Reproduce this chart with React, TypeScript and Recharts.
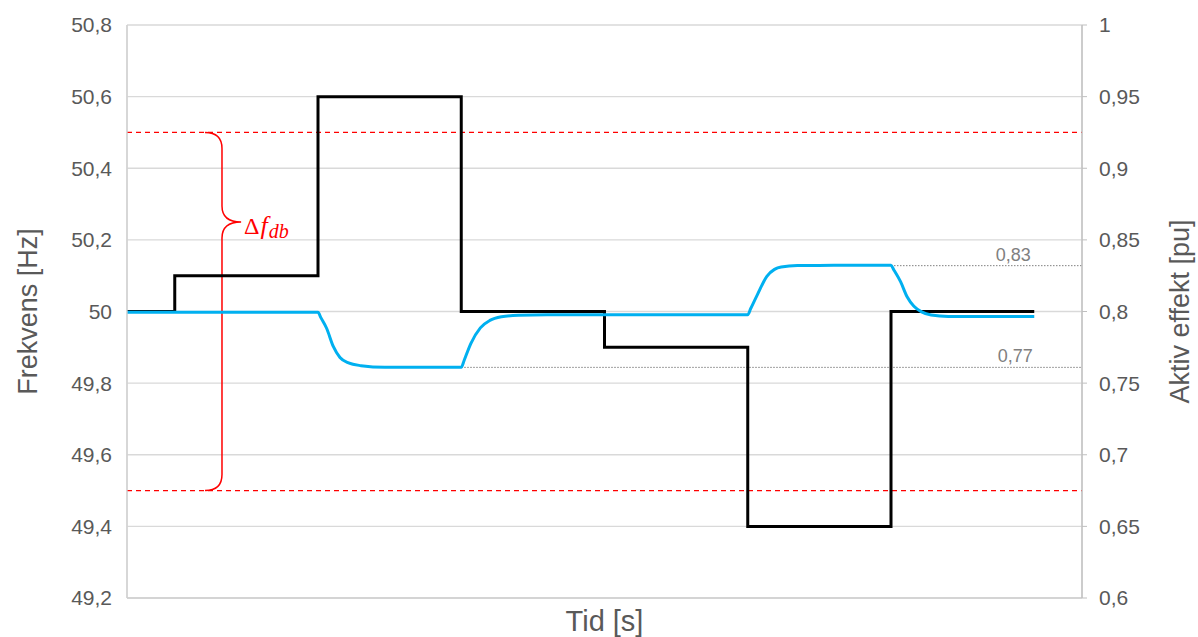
import React from 'react';
import {
  ComposedChart,
  Line,
  XAxis,
  YAxis,
  CartesianGrid,
  ReferenceLine,
  ReferenceArea,
  ReferenceDot,
} from 'recharts';

// ---- Data ----
const timeTicks = [0, 1, 2, 3, 4, 5, 6, 7, 8, 9, 10];
const freqTicks = [49.2, 49.4, 49.6, 49.8, 50, 50.2, 50.4, 50.6, 50.8];
const powerTicks = [0.6, 0.65, 0.7, 0.75, 0.8, 0.85, 0.9, 0.95, 1];

// Frequency (black step line)
const freqTime = [0, 0.5, 2, 3.5, 5, 6.5, 8, 9.5];
const freqHz = [50, 50.1, 50.6, 50, 49.9, 49.4, 50, 50];

// Active power (blue line)
const powerTime = [
  0, 2, 2.03, 2.09, 2.16, 2.23, 2.32, 2.45, 2.7,
  3.5, 3.53, 3.6, 3.7, 3.8, 3.92, 4.1, 4.4,
  6.5, 6.53, 6.6, 6.7, 6.78, 6.85, 7.02, 7.4,
  8, 8.03, 8.1, 8.17, 8.24, 8.32, 8.42, 8.6, 9.5,
];
const powerPu = [
  0.7995, 0.7995, 0.7957, 0.7883, 0.7756, 0.7679, 0.7641, 0.7622, 0.761,
  0.761, 0.7658, 0.7776, 0.7886, 0.7938, 0.7963, 0.7974, 0.7978,
  0.7978, 0.8019, 0.8116, 0.8246, 0.8294, 0.8311, 0.8321, 0.8322,
  0.8322, 0.829, 0.8208, 0.8101, 0.8036, 0.7997, 0.7975, 0.7965, 0.7965,
];

// Deadband limits and annotated power levels
const deadbandHz = [50.5, 49.5];
const lowPower = 0.761;
const lowPowerLabel = '0,77';
const lowPowerStart = 3.5;
const highPower = 0.832;
const highPowerLabel = '0,83';
const highPowerStart = 8;
const braceTipHz = 50.25;

const freqData = freqTime.map((t, i) => ({ t, f: freqHz[i] }));
const powerData = powerTime.map((t, i) => ({ t, p: powerPu[i] }));

const fmt = (v: number) => String(v).replace('.', ',');

const FONT = '"Liberation Sans", Arial, sans-serif';
const TICK_COLOR = '#595959';

const LeftTitle = (props: any) => {
  const vb = props.viewBox || {};
  const cx = (vb.x ?? 0) + 28;
  const cy = (vb.y ?? 0) + (vb.height ?? 0) / 2;
  return (
    <text x={cx} y={cy} transform={`rotate(-90, ${cx}, ${cy})`} textAnchor="middle" dominantBaseline="central"
      fontFamily={FONT} fontSize={27} fill={TICK_COLOR}>Frekvens [Hz]</text>
  );
};

const RightTitle = (props: any) => {
  const vb = props.viewBox || {};
  const cx = (vb.x ?? 0) + 98;
  const cy = (vb.y ?? 0) + (vb.height ?? 0) / 2;
  return (
    <text x={cx} y={cy} transform={`rotate(-90, ${cx}, ${cy})`} textAnchor="middle" dominantBaseline="central"
      fontFamily={FONT} fontSize={27} fill={TICK_COLOR}>Aktiv effekt [pu]</text>
  );
};

const BottomTitle = (props: any) => {
  const vb = props.viewBox || {};
  const cx = (vb.x ?? 0) + (vb.width ?? 0) / 2;
  const y = (vb.y ?? 0) + 33;
  return (
    <text x={cx} y={y} textAnchor="middle" fontFamily={FONT} fontSize={29} fill={TICK_COLOR}>Tid [s]</text>
  );
};

const BraceShape = (props: any) => {
  const { x, y, width, height } = props;
  if (x == null || y == null) return null;
  const left = x;
  const right = x + width;
  const mid = x + width * 0.47;
  const top = y;
  const bottom = y + height;
  const tipY = y + height * ((deadbandHz[0] - braceTipHz) / (deadbandHz[0] - deadbandHz[1]));
  const r = 16;
  const d = `M ${left} ${top} Q ${mid} ${top} ${mid} ${top + r} L ${mid} ${tipY - r} Q ${mid} ${tipY} ${right} ${tipY} Q ${mid} ${tipY} ${mid} ${tipY + r} L ${mid} ${bottom - r} Q ${mid} ${bottom} ${left} ${bottom}`;
  return (
    <g>
      <path d={d} fill="none" stroke="#FF0000" strokeWidth={1.5} />
      <text x={right + 3} y={tipY + 12} fill="#FF0000" fontFamily='"Liberation Serif", "DejaVu Serif", serif'>
        <tspan fontSize={24}>Δ</tspan>
        <tspan fontSize={26} fontStyle="italic" dx={1}>f</tspan>
        <tspan fontSize={20} fontStyle="italic" dy={4} dx={1}>db</tspan>
      </text>
    </g>
  );
};

export default function App() {
  return (
    <div style={{ position: 'absolute', left: 0, top: 0, width: 1198, height: 637, background: '#fff' }}>
      <ComposedChart width={1198} height={637} margin={{ top: 25, right: 0, bottom: 0, left: 0 }}>
        <CartesianGrid stroke="#d9d9d9" strokeWidth={1.3} yAxisId="left" />
        <XAxis
          dataKey="t"
          type="number"
          domain={[0, 10]}
          ticks={timeTicks}
          tick={false}
          tickLine={false}
          axisLine={{ stroke: '#cfcfcf', strokeWidth: 1.3 }}
          height={39}
          allowDuplicatedCategory={false}
          label={<BottomTitle />}
        />
        <YAxis
          yAxisId="left"
          orientation="left"
          domain={[49.2, 50.8]}
          ticks={freqTicks}
          tickFormatter={fmt}
          width={127}
          tickLine={false}
          tickSize={0}
          tickMargin={15}
          axisLine={{ stroke: '#cfcfcf', strokeWidth: 1.3 }}
          tick={{ fill: TICK_COLOR, fontSize: 21, fontFamily: FONT }}
          allowDataOverflow
          label={<LeftTitle />}
        />
        <YAxis
          yAxisId="right"
          orientation="right"
          domain={[0.6, 1]}
          ticks={powerTicks}
          tickFormatter={fmt}
          width={116}
          tickSize={5}
          tickMargin={12}
          tickLine={{ stroke: '#bfbfbf' }}
          axisLine={{ stroke: '#bfbfbf', strokeWidth: 1.3 }}
          tick={{ fill: TICK_COLOR, fontSize: 21, fontFamily: FONT }}
          allowDataOverflow
          label={<RightTitle />}
        />
        {deadbandHz.map((v) => (
          <ReferenceLine key={v} yAxisId="left" y={v} stroke="#FF0000" strokeWidth={1.3} strokeDasharray="5 4" />
        ))}
        <ReferenceLine
          yAxisId="right"
          segment={[{ x: lowPowerStart, y: lowPower }, { x: 10, y: lowPower }]}
          stroke="#808080"
          strokeWidth={1}
          strokeDasharray="1.5 1.5"
        />
        <ReferenceLine
          yAxisId="right"
          segment={[{ x: highPowerStart, y: highPower }, { x: 10, y: highPower }]}
          stroke="#808080"
          strokeWidth={1}
          strokeDasharray="1.5 1.5"
        />
        <ReferenceArea
          yAxisId="left"
          x1={0.817}
          x2={1.195}
          y1={deadbandHz[1]}
          y2={deadbandHz[0]}
          shape={<BraceShape />}
          ifOverflow="visible"
        />
        <Line
          yAxisId="left"
          data={freqData}
          dataKey="f"
          type="stepAfter"
          stroke="#000000"
          strokeWidth={3}
          dot={false}
          activeDot={false}
          isAnimationActive={false}
        />
        <Line
          yAxisId="right"
          data={powerData}
          dataKey="p"
          type="monotone"
          stroke="#00B0F0"
          strokeWidth={3}
          dot={false}
          activeDot={false}
          isAnimationActive={false}
        />
        <ReferenceDot
          yAxisId="right"
          x={9.3}
          y={lowPower}
          r={0}
          ifOverflow="visible"
          label={{ value: lowPowerLabel, position: 'top', offset: 5, fill: '#808080', fontSize: 18, fontFamily: FONT }}
        />
        <ReferenceDot
          yAxisId="right"
          x={9.28}
          y={highPower}
          r={0}
          ifOverflow="visible"
          label={{ value: highPowerLabel, position: 'top', offset: 5, fill: '#808080', fontSize: 18, fontFamily: FONT }}
        />
      </ComposedChart>
    </div>
  );
}
